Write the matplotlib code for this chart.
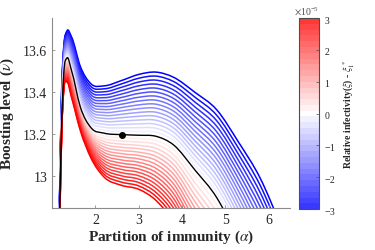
import numpy as np
import matplotlib
matplotlib.use('Agg')
import matplotlib.pyplot as plt
from matplotlib.colors import Normalize
from matplotlib.cm import ScalarMappable
from matplotlib.ticker import ScalarFormatter
from matplotlib.path import Path
from matplotlib.patches import PathPatch

plt.rcParams['font.family'] = 'Liberation Serif'
plt.rcParams['mathtext.fontset'] = 'stix'
plt.rcParams['axes.unicode_minus'] = False

# partition of immunity (alpha) grid shared by all curves
alpha = [1.17, 1.22, 1.27, 1.34, 1.45, 1.65, 1.9, 2.2, 2.6, 3.0, 3.4, 3.8, 4.3, 4.8, 5.3, 5.8, 6.3]

# relative infectivity xi - xi1* (units of 1e-5)
xi_blue = [-3.0, -2.8125, -2.625, -2.4375, -2.25, -2.0625, -1.875, -1.6875,
           -1.5, -1.3125, -1.125, -0.9375, -0.75, -0.5625, -0.375, -0.1875]
xi_red = [0.1875, 0.375, 0.5625, 0.75, 0.9375, 1.125, 1.3125, 1.5,
          1.6875, 1.875, 2.0625, 2.25, 2.4375, 2.625, 2.8125, 3.0]

# boosting level nu for each xi (blue: xi < xi1*)
nu_blue = [
  [12.880, 13.410, 13.618, 13.688, 13.660, 13.522, 13.438, 13.429, 13.454, 13.483, 13.494, 13.470, 13.398, 13.316, 13.164, 12.994, 12.760],
  [12.875, 13.400, 13.610, 13.680, 13.650, 13.510, 13.425, 13.415, 13.438, 13.465, 13.475, 13.450, 13.375, 13.290, 13.135, 12.960, 12.725],
  [12.870, 13.390, 13.602, 13.672, 13.640, 13.498, 13.412, 13.401, 13.422, 13.447, 13.456, 13.430, 13.352, 13.264, 13.106, 12.926, 12.690],
  [12.865, 13.380, 13.594, 13.664, 13.630, 13.486, 13.399, 13.387, 13.406, 13.429, 13.437, 13.410, 13.329, 13.238, 13.077, 12.892, 12.655],
  [12.860, 13.370, 13.586, 13.656, 13.620, 13.474, 13.386, 13.373, 13.390, 13.411, 13.418, 13.390, 13.306, 13.212, 13.048, 12.858, 12.620],
  [12.855, 13.360, 13.578, 13.648, 13.610, 13.462, 13.373, 13.359, 13.374, 13.393, 13.399, 13.370, 13.283, 13.186, 13.019, 12.824, 12.585],
  [12.850, 13.350, 13.570, 13.640, 13.600, 13.450, 13.360, 13.345, 13.358, 13.375, 13.380, 13.350, 13.260, 13.160, 12.990, 12.790, 12.550],
  [12.845, 13.340, 13.562, 13.632, 13.590, 13.438, 13.347, 13.331, 13.342, 13.357, 13.361, 13.330, 13.237, 13.134, 12.961, 12.756, 12.515],
  [12.840, 13.330, 13.554, 13.624, 13.580, 13.426, 13.334, 13.317, 13.326, 13.339, 13.342, 13.310, 13.214, 13.108, 12.932, 12.722, 12.480],
  [12.835, 13.320, 13.546, 13.616, 13.570, 13.414, 13.321, 13.303, 13.310, 13.321, 13.323, 13.290, 13.191, 13.082, 12.903, 12.688, 12.445],
  [12.830, 13.310, 13.538, 13.608, 13.560, 13.402, 13.308, 13.289, 13.294, 13.303, 13.304, 13.270, 13.168, 13.056, 12.874, 12.654, 12.410],
  [12.825, 13.300, 13.530, 13.600, 13.550, 13.390, 13.295, 13.275, 13.278, 13.285, 13.285, 13.250, 13.145, 13.030, 12.845, 12.620, 12.375],
  [12.820, 13.290, 13.522, 13.592, 13.540, 13.378, 13.282, 13.261, 13.262, 13.267, 13.266, 13.230, 13.122, 13.004, 12.816, 12.586, 12.340],
  [12.815, 13.280, 13.514, 13.584, 13.530, 13.366, 13.269, 13.247, 13.246, 13.249, 13.247, 13.210, 13.099, 12.978, 12.787, 12.552, 12.305],
  [12.810, 13.270, 13.506, 13.576, 13.520, 13.354, 13.256, 13.233, 13.230, 13.231, 13.228, 13.190, 13.076, 12.952, 12.758, 12.518, 12.270],
  [12.805, 13.260, 13.498, 13.568, 13.510, 13.342, 13.243, 13.219, 13.214, 13.213, 13.209, 13.170, 13.053, 12.926, 12.729, 12.484, 12.235],
]

# threshold curve xi = xi1*
nu_black = [12.800, 13.250, 13.490, 13.560, 13.500, 13.330, 13.230, 13.205, 13.198, 13.195, 13.190, 13.150, 13.030, 12.900, 12.700, 12.450, 12.200]

# red: xi > xi1*
nu_red = [
  [12.795, 13.247, 13.485, 13.553, 13.492, 13.323, 13.221, 13.192, 13.183, 13.179, 13.171, 13.127, 13.000, 12.865, 12.660, 12.405, 12.150],
  [12.790, 13.244, 13.480, 13.546, 13.484, 13.316, 13.212, 13.179, 13.168, 13.163, 13.152, 13.104, 12.970, 12.830, 12.620, 12.360, 12.100],
  [12.785, 13.241, 13.475, 13.539, 13.476, 13.309, 13.203, 13.166, 13.153, 13.147, 13.133, 13.081, 12.940, 12.795, 12.580, 12.315, 12.050],
  [12.780, 13.238, 13.470, 13.532, 13.468, 13.302, 13.194, 13.153, 13.138, 13.131, 13.114, 13.058, 12.910, 12.760, 12.540, 12.270, 12.000],
  [12.775, 13.235, 13.465, 13.525, 13.460, 13.295, 13.185, 13.140, 13.123, 13.115, 13.095, 13.035, 12.880, 12.725, 12.500, 12.225, 11.950],
  [12.770, 13.232, 13.460, 13.518, 13.452, 13.288, 13.176, 13.127, 13.108, 13.099, 13.076, 13.012, 12.850, 12.690, 12.460, 12.180, 11.900],
  [12.765, 13.229, 13.455, 13.511, 13.444, 13.281, 13.167, 13.114, 13.093, 13.083, 13.057, 12.989, 12.820, 12.655, 12.420, 12.135, 11.850],
  [12.760, 13.226, 13.450, 13.504, 13.436, 13.274, 13.158, 13.101, 13.078, 13.067, 13.038, 12.966, 12.790, 12.620, 12.380, 12.090, 11.800],
  [12.755, 13.223, 13.445, 13.497, 13.428, 13.267, 13.149, 13.088, 13.063, 13.051, 13.019, 12.943, 12.760, 12.585, 12.340, 12.045, 11.750],
  [12.750, 13.220, 13.440, 13.490, 13.420, 13.260, 13.140, 13.075, 13.048, 13.035, 13.000, 12.920, 12.730, 12.550, 12.300, 12.000, 11.700],
  [12.745, 13.217, 13.435, 13.483, 13.412, 13.253, 13.131, 13.062, 13.033, 13.019, 12.981, 12.897, 12.700, 12.515, 12.260, 11.955, 11.650],
  [12.740, 13.214, 13.430, 13.476, 13.404, 13.246, 13.122, 13.049, 13.018, 13.003, 12.962, 12.874, 12.670, 12.480, 12.220, 11.910, 11.600],
  [12.735, 13.211, 13.425, 13.469, 13.396, 13.239, 13.113, 13.036, 13.003, 12.987, 12.943, 12.851, 12.640, 12.445, 12.180, 11.865, 11.550],
  [12.730, 13.208, 13.420, 13.462, 13.388, 13.232, 13.104, 13.023, 12.988, 12.971, 12.924, 12.828, 12.610, 12.410, 12.140, 11.820, 11.500],
  [12.725, 13.205, 13.415, 13.455, 13.380, 13.225, 13.095, 13.010, 12.973, 12.955, 12.905, 12.805, 12.580, 12.375, 12.100, 11.775, 11.450],
  [12.720, 13.202, 13.410, 13.448, 13.372, 13.218, 13.086, 12.997, 12.958, 12.939, 12.886, 12.782, 12.550, 12.340, 12.060, 11.730, 11.400],
]

# marked point on the threshold curve
dot_alpha = [2.62]
dot_nu = [13.198]


def curve(x, y):
  # smooth Bezier path running through every data point
  x = np.asarray(x, float)
  y = np.asarray(y, float)
  m = np.gradient(y, x)
  verts = [(x[0], y[0])]
  codes = [Path.MOVETO]
  for i in range(len(x) - 1):
    dx = x[i + 1] - x[i]
    verts += [(x[i] + dx / 3, y[i] + m[i] * dx / 3),
              (x[i + 1] - dx / 3, y[i + 1] - m[i + 1] * dx / 3),
              (x[i + 1], y[i + 1])]
    codes += [Path.CURVE4] * 3
  return Path(verts, codes)


cmap = plt.get_cmap('bwr', 33)
norm = Normalize(-3e-5, 3e-5)

fig = plt.figure(figsize=(3.75, 2.51), dpi=100)
ax = fig.add_axes([0.139, 0.167, 0.635, 0.757])

for xi, nu in zip(xi_blue, nu_blue):
  ax.add_patch(PathPatch(curve(alpha, nu), fill=False, lw=1.1,
                         edgecolor=cmap(norm(xi * 1e-5))))
for xi, nu in zip(xi_red, nu_red):
  ax.add_patch(PathPatch(curve(alpha, nu), fill=False, lw=1.1,
                         edgecolor=cmap(norm(xi * 1e-5))))
ax.add_patch(PathPatch(curve(alpha, nu_black), fill=False, lw=1.0, edgecolor='k'))
ax.plot(dot_alpha, dot_nu, 'o', color='k', ms=4)

ax.set_xlim(1, 6.5)
ax.set_ylim(12.85, 13.75)
ax.set_xticks([2, 3, 4, 5, 6])
ax.set_yticks([13, 13.2, 13.4, 13.6], labels=['13', '13.2', '13.4', '13.6'])
ax.tick_params(direction='in', length=2.5, labelsize=10, colors='0.55',
               labelcolor='0.15', width=0.6)
for side in ['top', 'right']:
  ax.spines[side].set_visible(False)
for side in ['left', 'bottom']:
  ax.spines[side].set_color('0.55')
  ax.spines[side].set_linewidth(0.8)

ax.set_xlabel(r'Partition of immunity ($\alpha$)', fontsize=11, fontweight='bold',
              color='0.15', labelpad=1)
ax.set_ylabel(r'Boosting level ($\nu$)', fontsize=11, fontweight='bold',
              color='0.15', labelpad=5)

cax = fig.add_axes([0.797, 0.163, 0.053, 0.761])
cb = fig.colorbar(ScalarMappable(norm=norm, cmap=cmap), cax=cax)
cb.solids.set_alpha(0.78)
fmt = ScalarFormatter(useMathText=True)
fmt.set_powerlimits((0, 0))
cb.formatter = fmt
cb.set_ticks([-3e-5, -2e-5, -1e-5, 0, 1e-5, 2e-5, 3e-5])
cb.outline.set_edgecolor('0.3')
cb.outline.set_linewidth(0.8)
cax.tick_params(direction='in', length=2, labelsize=7, colors='0.3', labelcolor='0.15', width=0.5)
cax.yaxis.get_offset_text().set_fontsize(7)
cax.yaxis.get_offset_text().set_color('0.3')
cb.set_label(r'Relative infectivity($\xi$) - $\xi_1^*$', fontsize=7, fontweight='bold',
             color='0.15', labelpad=4)

fig.savefig('out.png', dpi=100)
